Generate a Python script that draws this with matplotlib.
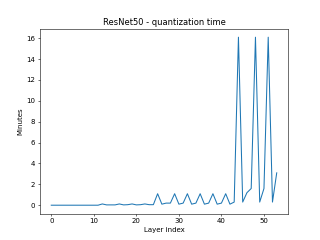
import matplotlib
matplotlib.use("Agg")
import matplotlib.pyplot as plt

# quantization time per layer (minutes)
minutes = [
    0.0, 0.0, 0.0, 0.0, 0.0, 0.0, 0.0, 0.0, 0.0, 0.0,   # 0-9
    0.0, 0.0, 0.12, 0.03, 0.03, 0.03, 0.12, 0.03, 0.05, 0.12,  # 10-19
    0.03, 0.05, 0.12, 0.05, 0.05, 1.1, 0.1, 0.2, 0.2, 1.1,  # 20-29
    0.1, 0.2, 1.1, 0.1, 0.2, 1.1, 0.1, 0.2, 1.1, 0.1,  # 30-39
    0.2, 1.1, 0.1, 0.3, 16.1, 0.3, 1.2, 1.6, 16.1, 0.3,  # 40-49
    1.6, 16.1, 0.3, 3.1,  # 50-53
]
layers = list(range(len(minutes)))

fig, ax = plt.subplots(figsize=(6.4, 4.8), dpi=50)
ax.plot(layers, minutes)
ax.set_title("ResNet50 - quantization time")
ax.set_xlabel("Layer index")
ax.set_ylabel("Minutes")

fig.savefig("out.png")
